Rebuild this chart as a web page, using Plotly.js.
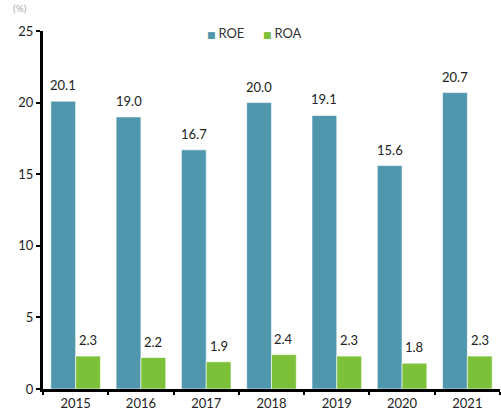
<!DOCTYPE html>
<html>
<head>
<meta charset="utf-8">
<script src="https://cdn.plot.ly/plotly-3.0.1.min.js"></script>
<style>
  html, body { margin: 0; padding: 0; background: #fff; overflow: hidden; }
  #chart { width: 501px; height: 410px; }
</style>
</head>
<body>
<div id="chart"></div>
<script>
// Return ratios by year (%)
const years = ['2015', '2016', '2017', '2018', '2019', '2020', '2021'];
const roe = [20.1, 19.0, 16.7, 20.0, 19.1, 15.6, 20.7];
const roa = [2.3, 2.2, 1.9, 2.4, 2.3, 1.8, 2.3];
const seriesNames = ['ROE', 'ROA'];
const seriesColors = ['#5097ad', '#7dc13a'];

const FONT = 'Lato, "Open Sans", sans-serif';
const TEXT_COLOR = '#222';
const BAR_GAP = 0.24;
const barWidth = (1 - BAR_GAP) / 2;

const traces = [roe, roa].map((vals, k) => ({
  type: 'bar',
  name: seriesNames[k],
  x: years,
  y: vals,
  marker: { color: seriesColors[k], line: { color: '#ffffff', width: 0.6 } },
  showlegend: false,
  hoverinfo: 'x+y'
}));

// value labels above each bar
const annotations = [];
[roe, roa].forEach((vals, k) => {
  const offset = (k - 0.5) * barWidth;
  vals.forEach((v, i) => {
    annotations.push({
      xref: 'x', yref: 'y',
      x: i + offset, y: v,
      text: v.toFixed(1),
      showarrow: false,
      yanchor: 'bottom',
      yshift: 6,
      font: { family: FONT, size: 13, color: TEXT_COLOR }
    });
  });
});

// legend row
const legendX = [0.355, 0.477];
seriesNames.forEach((name, k) => {
  annotations.push({
    xref: 'paper', yref: 'paper',
    x: legendX[k], y: 0.994,
    xanchor: 'left', yanchor: 'middle',
    text: '<span style="color:' + seriesColors[k] + ';font-family:DejaVu Sans;font-size:9px">■ </span>' + name,
    showarrow: false,
    font: { family: FONT, size: 13, color: '#333' }
  });
});

// unit label at the top-left corner
annotations.push({
  xref: 'paper', yref: 'paper',
  x: -0.03, y: 1, yshift: 15,
  xanchor: 'right', yanchor: 'bottom',
  text: '(%)', showarrow: false,
  font: { family: FONT, size: 10, color: '#aaa' }
});

const layout = {
  width: 501,
  height: 410,
  margin: { l: 43, r: 1, t: 31, b: 21 },
  paper_bgcolor: '#ffffff',
  plot_bgcolor: '#ffffff',
  barmode: 'group',
  bargap: BAR_GAP,
  bargroupgap: 0,
  showlegend: false,
  font: { family: FONT, size: 13, color: TEXT_COLOR },
  xaxis: {
    type: 'category',
    range: [-0.5, 6.5],
    showline: true, linecolor: '#000', linewidth: 3,
    ticks: 'outside', tickson: 'boundaries', ticklen: 3, tickwidth: 2, tickcolor: '#000',
    showgrid: false, zeroline: false,
    tickfont: { family: FONT, size: 13, color: TEXT_COLOR },
    fixedrange: true
  },
  yaxis: {
    range: [0, 25],
    tickvals: [0, 5, 10, 15, 20, 25],
    showline: true, linecolor: '#000', linewidth: 3,
    ticks: 'outside', ticklen: 4, tickwidth: 2, tickcolor: '#000',
    showgrid: false, zeroline: false,
    tickfont: { family: FONT, size: 13, color: TEXT_COLOR },
    fixedrange: true
  },
  annotations: annotations
};

Plotly.newPlot('chart', traces, layout, { displayModeBar: false, staticPlot: true });
</script>
</body>
</html>
